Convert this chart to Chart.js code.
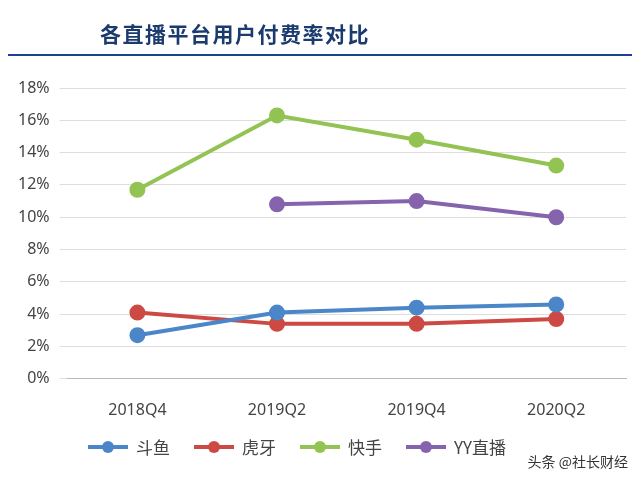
<!DOCTYPE html>
<html><head><meta charset="utf-8">
<script src="https://cdn.jsdelivr.net/npm/chart.js@4"></script>
<style>
body{margin:0;background:#fff;}
#wrap{position:relative;width:640px;height:483px;}
#title{position:absolute;left:100px;top:18px;font:bold 21px "Noto Sans CJK SC";color:#1b3a6e;letter-spacing:1.5px;}
#rule{position:absolute;left:8px;top:54px;width:624px;height:2px;background:#1f3f8f;}
#wm{position:absolute;right:12px;bottom:12px;font:14px "Noto Sans CJK SC";color:#333;}
#leg{position:absolute;left:88px;top:434px;font:17px "Noto Sans CJK SC";color:#444;display:flex;gap:24px;}
#leg span{display:flex;align-items:center;gap:8px;}
#leg i{position:relative;display:inline-block;width:40px;height:4px;}
#leg i::after{content:"";position:absolute;left:14px;top:-4px;width:12px;height:12px;border-radius:50%;background:inherit;}
</style></head><body>
<div id="wrap">
<canvas id="c" width="640" height="483"></canvas>
<div id="title">各直播平台用户付费率对比</div>
<div id="rule"></div>
<div id="leg"></div>
<div id="wm">头条 @社长财经</div>
</div>
<script>
const categories=["2018Q4","2019Q2","2019Q4","2020Q2"];
const seriesNames=["斗鱼","虎牙","快手","YY直播"];
const douyu=[2.7,4.1,4.4,4.6];
const huya=[4.1,3.4,3.4,3.7];
const kuaishou=[11.7,16.3,14.8,13.2];
const yy=[null,10.8,11.0,10.0];
const yTicks=[0,2,4,6,8,10,12,14,16,18];
const colors=['#4a86c8','#cc4a43','#92c353','#8563ad'];
function ds(label,data,color){return{label,data,borderColor:color,backgroundColor:color,borderWidth:4,pointRadius:6,pointHoverRadius:6,tension:0,spanGaps:false};}
const chart=new Chart(document.getElementById('c'),{
type:'line',
data:{labels:categories,datasets:[ds(seriesNames[0],douyu,colors[0]),ds(seriesNames[1],huya,colors[1]),ds(seriesNames[2],kuaishou,colors[2]),ds(seriesNames[3],yy,colors[3])]},
options:{responsive:false,animation:false,
layout:{padding:{top:88,left:8,right:14,bottom:49}},
plugins:{legend:{display:false},tooltip:{enabled:false}},
scales:{
x:{offset:true,grid:{display:false},border:{color:'#bbb'},ticks:{font:{family:'Noto Sans',size:16},color:'#444',padding:14}},
y:{min:0,max:18,afterBuildTicks(a){a.ticks=yTicks.map(v=>({value:v}));},grid:{color:'#ddd'},border:{display:false},ticks:{font:{family:'Noto Sans',size:16},color:'#444',padding:10,callback:v=>v+'%'}}
}}});
document.getElementById('leg').innerHTML=chart.data.datasets.map(d=>`<span><i style="background:${d.borderColor}"></i>${d.label}</span>`).join('');
</script></body></html>
